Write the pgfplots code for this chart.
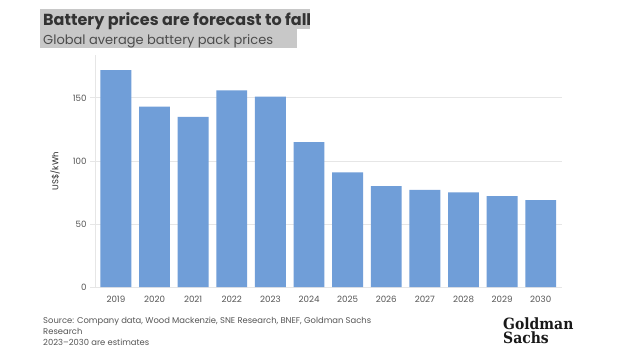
\documentclass[border=0pt]{standalone}
\usepackage{pgfplots}
\pgfplotsset{compat=1.18}
\usepackage{fontspec}
\setmainfont{Poppins}
\newfontfamily\gsfont{DejaVu Serif Condensed}[BoldFont={DejaVu Serif Condensed Bold}]
\definecolor{barblue}{RGB}{112,158,216}
\definecolor{txtgrey}{RGB}{85,85,85}
\definecolor{hlgrey}{RGB}{200,200,200}
\definecolor{gridgrey}{RGB}{230,230,230}
\begin{document}
\begin{tikzpicture}[x=1pt,y=1pt]
\path[use as bounding box, fill=white] (0,0) rectangle (640,360);
% title highlights
\fill[hlgrey] (40,331) rectangle (310,351);
\fill[hlgrey] (40,312) rectangle (297,331);
\node[anchor=base west, inner sep=0pt, text=black!80] at (43,335)
  {\fontsize{16}{18}\selectfont\bfseries Battery prices are forecast to fall};
\node[anchor=base west, inner sep=0pt, text=black!70] at (43,316)
  {\fontsize{13}{15}\selectfont Global average battery pack prices};
\begin{axis}[
  at={(90pt,73pt)}, anchor=south west,
  scale only axis, width=472pt, height=232pt,
  ymin=0, ymax=184,
  xmin=-0.67, xmax=11.55,
  axis line style={draw=none},
  ybar, bar width=0.8,
  ytick={0,50,100,150},
  ymajorgrids, grid style={gridgrey, line width=0.8pt},
  xtick={0,...,11},
  xticklabels={2019,2020,2021,2022,2023,2024,2025,2026,2027,2028,2029,2030},
  tick style={draw=none},
  ticklabel style={font=\fontsize{8.7}{10}\selectfont, text=txtgrey},
  /pgf/number format/assume math mode=true,
  ylabel={US\$/kWh},
  ylabel style={font=\fontsize{8.5}{10}\selectfont, text=black!85, yshift=6pt},
  yticklabel style={xshift=0pt},
  xticklabel style={yshift=-1pt},
  clip=false,
]
\draw[gridgrey, line width=0.8pt] (axis cs:-0.52,0) -- (axis cs:-0.52,184);
\addplot[fill=barblue, draw=none, bar shift=0pt] coordinates {
(0,172) (1,143) (2,135) (3,156) (4,151) (5,115) (6,91) (7,80) (8,77) (9,75) (10,72) (11,69)};
\end{axis}
\node[anchor=base west, inner sep=0pt, text=txtgrey] at (43,37)
  {\fontsize{8.4}{10}\selectfont Source: Company data, Wood Mackenzie, SNE Research, BNEF, Goldman Sachs};
\node[anchor=base west, inner sep=0pt, text=txtgrey] at (43,26)
  {\fontsize{8.4}{10}\selectfont Research};
\node[anchor=base west, inner sep=0pt, text=txtgrey] at (43,15)
  {\fontsize{8.4}{10}\selectfont 2023--2030 are estimates};
\node[anchor=base west, inner sep=0pt, text=black!90,
  font={\fontsize{15.5}{16}\selectfont\gsfont\bfseries}] at (503,30.5) {Goldman};
\node[anchor=base west, inner sep=0pt, text=black!90,
  font={\fontsize{15.5}{16}\selectfont\gsfont\bfseries}] at (503,16.5) {Sachs};
\end{tikzpicture}
\end{document}
